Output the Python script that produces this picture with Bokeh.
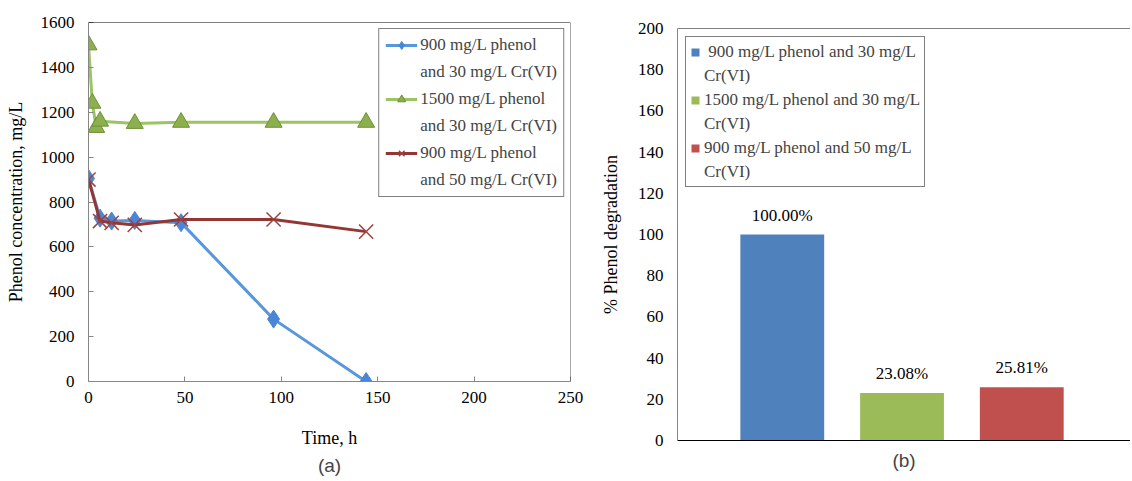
from bokeh.plotting import figure
from bokeh.layouts import row, column
from bokeh.models import (Legend, LegendItem, Span, Title, LabelSet, ColumnDataSource,
                          Range1d, FixedTicker)
from bokeh.embed import file_html
from bokeh.resources import INLINE

# ---------------- data (a) ----------------
time_900_30 = [0, 6, 12, 24, 48, 96, 144]
phenol_900_30 = [905, 728, 715, 718, 708, 278, 0]
time_1500_30 = [0, 2, 4, 6, 24, 48, 96, 144]
phenol_1500_30 = [1500, 1240, 1132, 1160, 1150, 1155, 1155, 1155]
time_900_50 = [0, 6, 12, 24, 48, 96, 144]
phenol_900_50 = [900, 715, 707, 698, 722, 722, 668]
line_labels = [("900 mg/L phenol", "and 30 mg/L Cr(VI)"),
               ("1500 mg/L phenol", "and 30 mg/L Cr(VI)"),
               ("900 mg/L phenol", "and 50 mg/L Cr(VI)")]
x_ticks_a = [0, 50, 100, 150, 200, 250]
y_ticks_a = [0, 200, 400, 600, 800, 1000, 1200, 1400, 1600]

# ---------------- data (b) ----------------
bar_pos = [1, 2, 3]
degradation = [100.00, 23.08, 25.81]
bar_texts = ["100.00%", "23.08%", "25.81%"]
bar_labels = [(" 900 mg/L phenol and 30 mg/L", "Cr(VI)"),
              ("1500 mg/L phenol and 30 mg/L", "Cr(VI)"),
              ("900 mg/L phenol and 50 mg/L", "Cr(VI)")]
bar_colors = ["#4F81BD", "#9BBB59", "#C0504D"]
y_ticks_b = [0, 20, 40, 60, 80, 100, 120, 140, 160, 180, 200]

SERIF = "Liberation Serif"
SANS = "Liberation Sans"
AX_GRAY = "#868686"


def style_axes(p):
    for ax in (p.xaxis[0], p.yaxis[0]):
        ax.major_label_text_font = SERIF
        ax.major_label_text_font_size = "17px"
        ax.major_label_text_color = "black"
        ax.axis_label_text_font = SERIF
        ax.axis_label_text_font_size = "18px"
        ax.axis_label_text_font_style = "normal"
        ax.axis_label_text_color = "black"
        ax.minor_tick_line_color = None
        ax.axis_line_color = AX_GRAY
        ax.major_tick_line_color = AX_GRAY
        ax.major_tick_in = 5
        ax.major_tick_out = 0
    p.grid.visible = False
    p.outline_line_color = None


# ---------------- figure (a) ----------------
p1 = figure(width=590, height=480, output_backend="svg", toolbar_location=None,
            x_range=Range1d(0, 250), y_range=Range1d(0, 1600),
            min_border_left=88, min_border_right=20, min_border_top=22,
            min_border_bottom=99)
style_axes(p1)
p1.xaxis.ticker = FixedTicker(ticks=x_ticks_a)
p1.yaxis.ticker = FixedTicker(ticks=y_ticks_a)
p1.xaxis.axis_label = "Time, h"
p1.yaxis.axis_label = "Phenol concentration, mg/L"
p1.xaxis.major_label_standoff = 10
p1.yaxis.major_label_standoff = 14
p1.xaxis.axis_label_standoff = 22
p1.yaxis.axis_label_standoff = 12
p1.add_layout(Span(location=1600, dimension="width", line_color="black", line_width=1))
p1.add_layout(Span(location=250, dimension="height", line_color="#555555", line_width=1))

l1 = p1.line(time_900_30, phenol_900_30, line_color="#5896DE", line_width=3)
m1 = p1.scatter(time_900_30, phenol_900_30, marker="diamond", size=18,
                fill_color="#4A86D6", line_color="#4A86D6")
l2 = p1.line(time_1500_30, phenol_1500_30, line_color="#9BC462", line_width=3)
m2 = p1.scatter(time_1500_30, phenol_1500_30, marker="triangle", size=17,
                fill_color="#8DB04E", line_color="#6F8F35")
l3 = p1.line(time_900_50, phenol_900_50, line_color="#943634", line_width=3)
m3 = p1.scatter(time_900_50, phenol_900_50, marker="x", size=20,
                line_color="#A0403E", line_width=1.5)
blank1 = p1.scatter([], [], alpha=0)

items1 = []
for (first, second), rs in zip(line_labels, [[l1, m1], [l2, m2], [l3, m3]]):
    items1.append(LegendItem(label=first, renderers=rs))
    items1.append(LegendItem(label=second, renderers=[blank1]))
leg1 = Legend(items=items1, location="top_right", margin=6, padding=6, spacing=7,
              label_text_font=SERIF, label_text_font_size="17px",
              label_height=20, glyph_height=20, glyph_width=32, label_standoff=3,
              border_line_color="black", border_line_width=1,
              background_fill_alpha=1)
p1.add_layout(leg1)
p1.add_layout(Title(text="(a)", align="center", text_font=SANS, standoff=5,
                    text_font_size="19px", text_font_style="normal"), "below")

# ---------------- figure (b) ----------------
p2 = figure(width=540, height=480, output_backend="svg", toolbar_location=None,
            x_range=Range1d(0.125, 3.908), y_range=Range1d(0, 200),
            min_border_left=87, min_border_right=0, min_border_top=28,
            min_border_bottom=40)
style_axes(p2)
p2.yaxis.ticker = FixedTicker(ticks=y_ticks_b)
p2.yaxis.major_tick_in = 0
p2.xaxis.ticker = FixedTicker(ticks=[])
p2.xaxis.axis_line_color = "black"
p2.xaxis.major_label_standoff = 0
p2.yaxis.axis_label = "% Phenol degradation"
p2.yaxis.major_label_standoff = 14
p2.yaxis.axis_label_standoff = 14
p2.add_layout(Span(location=200, dimension="width", line_color="black", line_width=1))

src = ColumnDataSource(dict(x=bar_pos, top=degradation, txt=bar_texts))
blank2 = p2.vbar(x=[], top=[], width=0.7, fill_alpha=0, line_alpha=0)
items2 = []
for i in range(3):
    r = p2.vbar(x=[bar_pos[i]], top=[degradation[i]], width=0.7,
                fill_color=bar_colors[i], line_color=None)
    items2.append(LegendItem(label=bar_labels[i][0], renderers=[r]))
    items2.append(LegendItem(label=bar_labels[i][1], renderers=[blank2]))

p2.add_layout(LabelSet(x="x", y="top", text="txt", source=src, y_offset=10,
                       text_align="center", text_baseline="bottom",
                       text_font=SERIF, text_font_size="17px", text_color="black"))

leg2 = Legend(items=items2, location="top_left", margin=8, padding=4, spacing=3,
              label_text_font=SERIF, label_text_font_size="17px",
              label_height=21, glyph_width=10, glyph_height=10,
              label_standoff=4, border_line_color="black", border_line_width=1)
p2.add_layout(leg2)
p2.add_layout(Title(text="(b)", align="center", text_font=SANS, standoff=14,
                    vertical_align="bottom",
                    text_font_size="19px", text_font_style="normal"), "below")

layout = row(column(p1), column(p2))
open("out.html", "w").write(file_html(layout, INLINE))
